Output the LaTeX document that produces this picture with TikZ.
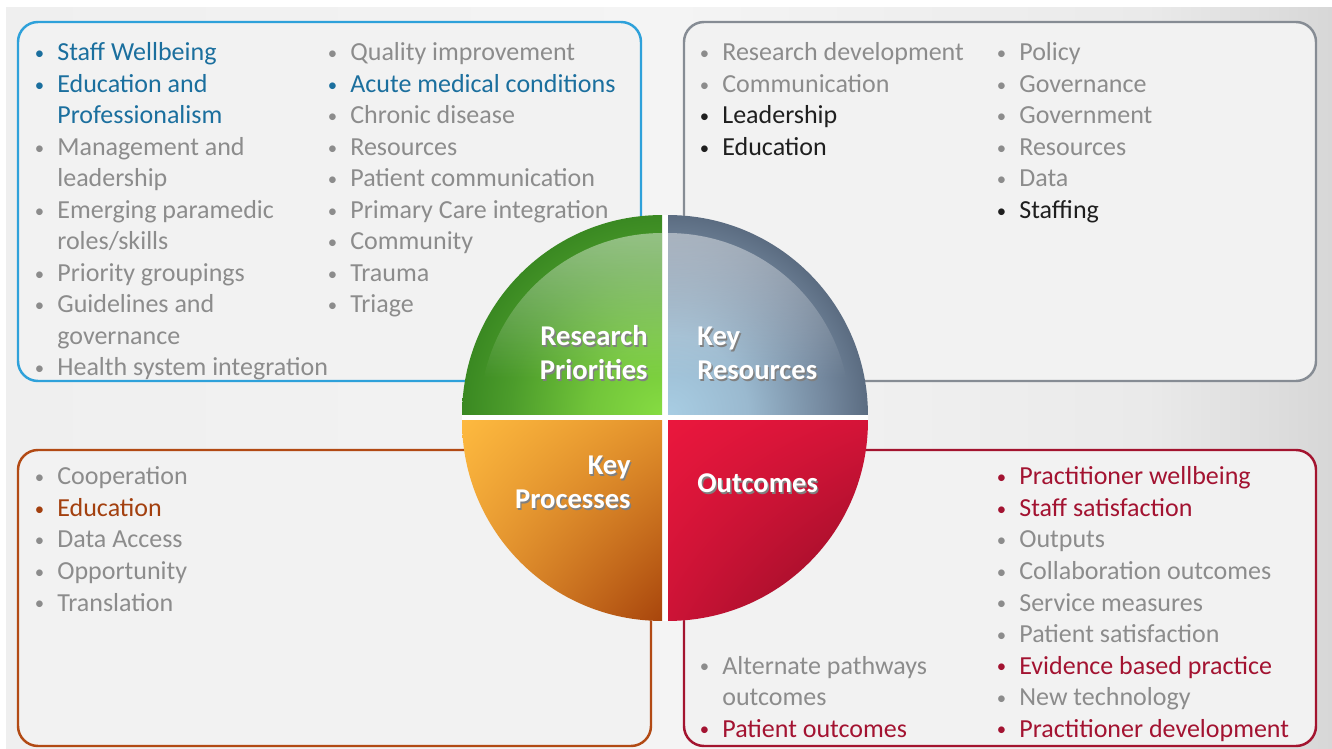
\documentclass[tikz,border=0pt]{standalone}
\usepackage{fontspec}
\setmainfont{Carlito}
\usetikzlibrary{fadings,shadings}

\definecolor{txtgray}{HTML}{8C8C8C}
\definecolor{txtblue}{HTML}{1B6F9E}
\definecolor{txtdark}{HTML}{1F1F1F}
\definecolor{txtbrown}{HTML}{A3400F}
\definecolor{txtred}{HTML}{A31331}
\definecolor{lineblue}{HTML}{2EA1DA}
\definecolor{linegray}{HTML}{868C94}
\definecolor{linebrown}{HTML}{B24A14}
\definecolor{linered}{HTML}{A3142F}
\definecolor{boxfill}{HTML}{F2F2F2}
\definecolor{bgL}{HTML}{EFEFEF}
\definecolor{bgM}{HTML}{F4F4F4}
\definecolor{bgN}{HTML}{EAEAEA}
\definecolor{bgR}{HTML}{D7D7D7}
% quadrant colours
\definecolor{grA}{HTML}{86DC42}
\definecolor{grB}{HTML}{72C53A}
\definecolor{grC}{HTML}{4C9C2B}
\definecolor{grD}{HTML}{3A8922}
\definecolor{slA}{HTML}{A8CDE3}
\definecolor{slB}{HTML}{9AB9CF}
\definecolor{slC}{HTML}{73879D}
\definecolor{slD}{HTML}{5B6C81}
\definecolor{orA}{HTML}{FDB93F}
\definecolor{orB}{HTML}{E3922C}
\definecolor{orC}{HTML}{E59530}
\definecolor{orD}{HTML}{A8450C}
\definecolor{rdA}{HTML}{EA173D}
\definecolor{rdB}{HTML}{D41438}
\definecolor{rdC}{HTML}{CC1336}
\definecolor{rdD}{HTML}{8C0C24}

\pgfdeclarehorizontalshading{backdrop}{100bp}{color(0bp)=(bgL); color(25bp)=(bgL); color(50bp)=(bgM); color(68bp)=(bgN); color(75bp)=(bgR); color(100bp)=(bgR)}
\pgfdeclareradialshading{greenquad}{\pgfpoint{0bp}{0bp}}{color(0bp)=(grA); color(9bp)=(grB); color(19bp)=(grC); color(25bp)=(grD); color(50bp)=(grD)}
\pgfdeclareradialshading{slatequad}{\pgfpoint{0bp}{0bp}}{color(0bp)=(slA); color(10bp)=(slB); color(20bp)=(slC); color(25bp)=(slD); color(50bp)=(slD)}
\tikzfading[name=glow, top color=transparent!55, bottom color=transparent!100]

\newcommand\bul{\llap{\makebox[0.45cm][l]{\raisebox{0.12ex}{\scalebox{0.72}{\textbullet}}}}}
\newcommand\shadowed[1]{\makebox[0pt][l]{\hspace{0.8pt}\raisebox{-0.8pt}{\color{black!50}#1}}#1}

\tikzset{
  item/.style={anchor=base west, inner sep=0pt, font=\fontsize{14.8}{17.8}\selectfont},
  box/.style={line width=1.4pt, rounded corners=0.4cm, fill=boxfill},
  quadlabel/.style={inner sep=0pt, text=white, font=\fontsize{16.3}{19}\selectfont\bfseries},
}

\begin{document}
\begin{tikzpicture}[x=0.02cm, y=-0.02cm]
  \useasboundingbox (0,0) rectangle (1332,749);
  \fill[white] (0,0) rectangle (1332,749);
  \shade[shading=backdrop] (6,8) rectangle (1332,749);

  % the four boxes
  \draw[box, draw=lineblue] (18,22) rectangle (641,381);
  \draw[box, draw=linegray] (684,22) rectangle (1316,381);
  \draw[box, draw=linebrown] (18,450) rectangle (651,746);
  \draw[box, draw=linered] (684,450) rectangle (1316,746);

  % research priorities
  \foreach \k/\c/\t in {0/txtblue/\bul Staff Wellbeing, 1/txtblue/\bul Education and,
      2/txtblue/Professionalism, 3/txtgray/\bul Management and, 4/txtgray/leadership,
      5/txtgray/\bul Emerging paramedic, 6/txtgray/{roles/skills}, 7/txtgray/\bul Priority groupings,
      8/txtgray/\bul Guidelines and, 9/txtgray/governance, 10/txtgray/\bul Health system integration}
    \node[item, text=\c] (rpa\k) at (57,{61+31.5*\k}) {\t};
  \foreach \k/\c/\t in {0/txtgray/Quality improvement, 1/txtblue/Acute medical conditions,
      2/txtgray/Chronic disease, 3/txtgray/Resources, 4/txtgray/Patient communication,
      5/txtgray/Primary Care integration, 6/txtgray/Community, 7/txtgray/Trauma, 8/txtgray/Triage}
    \node[item, text=\c] (rpb\k) at (350,{61+31.5*\k}) {\bul\t};

  % key resources
  \foreach \k/\c/\t in {0/txtgray/Research development, 1/txtgray/Communication,
      2/txtdark/Leadership, 3/txtdark/Education}
    \node[item, text=\c] (kra\k) at (722,{61+31.5*\k}) {\bul\t};
  \foreach \k/\c/\t in {0/txtgray/Policy, 1/txtgray/Governance, 2/txtgray/Government,
      3/txtgray/Resources, 4/txtgray/Data, 5/txtdark/Staffing}
    \node[item, text=\c] (krb\k) at (1019,{61+31.5*\k}) {\bul\t};

  % key processes
  \foreach \k/\c/\t in {0/txtgray/Cooperation, 1/txtbrown/Education, 2/txtgray/Data Access,
      3/txtgray/Opportunity, 4/txtgray/Translation}
    \node[item, text=\c] (kp\k) at (57,{485+31.5*\k}) {\bul\t};

  % outcomes
  \foreach \k/\c/\t in {6/txtgray/\bul Alternate pathways, 7/txtgray/outcomes,
      8/txtred/\bul Patient outcomes}
    \node[item, text=\c] (oca\k) at (722,{485+31.5*\k}) {\t};
  \foreach \k/\c/\t in {0/txtred/Practitioner wellbeing, 1/txtred/Staff satisfaction,
      2/txtgray/Outputs, 3/txtgray/Collaboration outcomes, 4/txtgray/Service measures,
      5/txtgray/Patient satisfaction, 6/txtred/Evidence based practice,
      7/txtgray/New technology, 8/txtred/Practitioner development}
    \node[item, text=\c] (ocb\k) at (1019,{485+31.5*\k}) {\bul\t};

  % the circle
  \fill[white] (665,418) circle (4.06cm);
  \begin{scope}
    \clip (462,215) rectangle (662,415);
    \shade[shading=greenquad] (662,415) circle (4cm);
    \clip (662,415) circle (3.64cm);
    \fill[white, path fading=glow] (470,230) rectangle (662,378);
  \end{scope}
  \begin{scope}
    \clip (668,215) rectangle (868,415);
    \shade[shading=slatequad] (668,415) circle (4cm);
    \clip (668,415) circle (3.64cm);
    \fill[white, path fading=glow] (668,230) rectangle (860,378);
  \end{scope}
  \begin{scope}
    \clip (662,421) circle (4cm);
    \shade[upper left=orA, upper right=orB, lower left=orC, lower right=orD] (462,421) rectangle (662,621);
  \end{scope}
  \begin{scope}
    \clip (668,421) circle (4cm);
    \shade[upper left=rdA, upper right=rdB, lower left=rdC, lower right=rdD] (668,421) rectangle (868,621);
  \end{scope}

  \node[quadlabel, anchor=base east] (rp1) at (648,346) {\shadowed{Research}};
  \node[quadlabel, anchor=base east] (rp2) at (648,380) {\shadowed{Priorities}};
  \node[quadlabel, anchor=base west] (kr1) at (697,346) {\shadowed{Key}};
  \node[quadlabel, anchor=base west] (kr2) at (697,380) {\shadowed{Resources}};
  \node[quadlabel, anchor=base east] (kp1) at (631,475) {\shadowed{Key}};
  \node[quadlabel, anchor=base east] (kp2) at (631,509) {\shadowed{Processes}};
  \node[quadlabel, anchor=base west] (oc) at (697,493) {\shadowed{Outcomes}};
\end{tikzpicture}
\end{document}
